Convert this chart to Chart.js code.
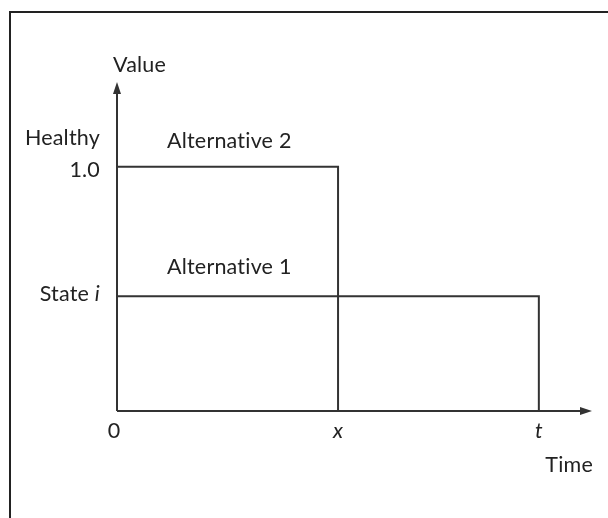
<!DOCTYPE html>
<html>
<head>
<meta charset="utf-8">
<script src="https://cdn.jsdelivr.net/npm/chart.js@4.4.1/dist/chart.umd.min.js"></script>
<style>
  html, body { margin: 0; padding: 0; background: #fff; }
  #wrap { position: relative; width: 608px; height: 518px; overflow: hidden; }
  #frame { position: absolute; left: 9px; top: 11px; width: 700px; height: 600px;
           border-top: 2px solid #222; border-left: 2px solid #222; }
  canvas { position: absolute; left: 0; top: 0; }
</style>
</head>
<body>
<div id="wrap">
  <div id="frame"></div>
  <canvas id="chart" width="608" height="518"></canvas>
</div>
<script>
// Data
const timeX = 0.524;       // time "x"
const timeT = 1.0;         // time "t"
const stateI = 0.47;       // value of "State i"
const healthy = 1.0;

const alt2Points = [{ x: 0, y: healthy }, { x: timeX, y: healthy }, { x: timeX, y: 0 }];
const alt1Points = [{ x: 0, y: stateI }, { x: timeT, y: stateI }, { x: timeT, y: 0 }];

const xTicks = [
    { v: 0, text: '0', italic: false },
    { v: timeX, text: 'x', italic: true },
    { v: timeT, text: 't', italic: true }
];

const xMax = 1.126;
const yMax = 1.347;

const FONT = '"Lato", "Open Sans", sans-serif';
const SIZE = '21.5px ';
const INK = '#333';

function drawArrowHead(ctx, x, y, dir) {
    ctx.beginPath();
    if (dir === 'up') {
        ctx.moveTo(x, y);
        ctx.lineTo(x - 4, y + 12);
        ctx.lineTo(x + 4, y + 12);
    } else {
        ctx.moveTo(x, y);
        ctx.lineTo(x - 12, y - 4);
        ctx.lineTo(x - 12, y + 4);
    }
    ctx.closePath();
    ctx.fill();
}

// axes, arrows and labels
const diagramPlugin = {
    id: 'diagram',
    afterDatasetsDraw(chart) {
        const ctx = chart.ctx;
        const xs = chart.scales.x;
        const ys = chart.scales.y;
        const x0 = xs.getPixelForValue(0);
        const y0 = ys.getPixelForValue(0);
        const xEnd = xs.getPixelForValue(xMax);
        const yEnd = ys.getPixelForValue(yMax);

        ctx.save();
        ctx.strokeStyle = INK;
        ctx.fillStyle = INK;
        ctx.lineWidth = 2;
        ctx.beginPath();
        ctx.moveTo(x0, y0);
        ctx.lineTo(x0, yEnd + 8);
        ctx.moveTo(x0, y0);
        ctx.lineTo(xEnd - 8, y0);
        ctx.stroke();
        drawArrowHead(ctx, x0, yEnd, 'up');
        drawArrowHead(ctx, xEnd, y0, 'right');

        ctx.fillStyle = '#222';
        ctx.letterSpacing = '0.2px';
        ctx.font = SIZE + FONT;
        ctx.textBaseline = 'alphabetic';

        // axis titles
        ctx.textAlign = 'left';
        ctx.fillText('Value', x0 - 4, yEnd - 10);
        ctx.textAlign = 'right';
        ctx.fillText('Time', xEnd + 1, y0 + 61);

        // y labels
        const yH = ys.getPixelForValue(healthy);
        const yS = ys.getPixelForValue(stateI);
        ctx.fillText('Healthy', x0 - 17, yH - 22);
        ctx.fillText('1.0', x0 - 17, yH + 10);
        ctx.font = 'italic ' + SIZE + FONT;
        const iw = ctx.measureText('i').width;
        ctx.fillText('i', x0 - 17, yS + 5);
        ctx.font = SIZE + FONT;
        ctx.fillText('State ', x0 - 17 - iw, yS + 5);

        // x labels
        ctx.textAlign = 'center';
        xTicks.forEach(t => {
            ctx.font = (t.italic ? 'italic ' : '') + SIZE + FONT;
            ctx.fillText(t.text, xs.getPixelForValue(t.v) - (t.v === 0 ? 3 : 0), y0 + 27);
        });

        // series labels
        ctx.font = SIZE + FONT;
        ctx.textAlign = 'left';
        ctx.fillText('Alternative 2', x0 + 50, yH - 19);
        ctx.fillText('Alternative 1', x0 + 50, yS - 22);
        ctx.restore();
    }
};

new Chart(document.getElementById('chart'), {
    type: 'line',
    data: {
        datasets: [
            {
                label: 'Alternative 2',
                data: alt2Points,
                borderColor: INK,
                borderWidth: 2,
                pointRadius: 0,
                fill: false,
                tension: 0
            },
            {
                label: 'Alternative 1',
                data: alt1Points,
                borderColor: INK,
                borderWidth: 2,
                pointRadius: 0,
                fill: false,
                tension: 0
            }
        ]
    },
    options: {
        responsive: false,
        animation: false,
        events: [],
        layout: {
            padding: { left: 117, right: 16, top: 82, bottom: 107 }
        },
        plugins: {
            legend: { display: false },
            tooltip: { enabled: false }
        },
        scales: {
            x: { type: 'linear', min: 0, max: xMax, display: false },
            y: { type: 'linear', min: 0, max: yMax, display: false }
        }
    },
    plugins: [diagramPlugin]
});
</script>
</body>
</html>
